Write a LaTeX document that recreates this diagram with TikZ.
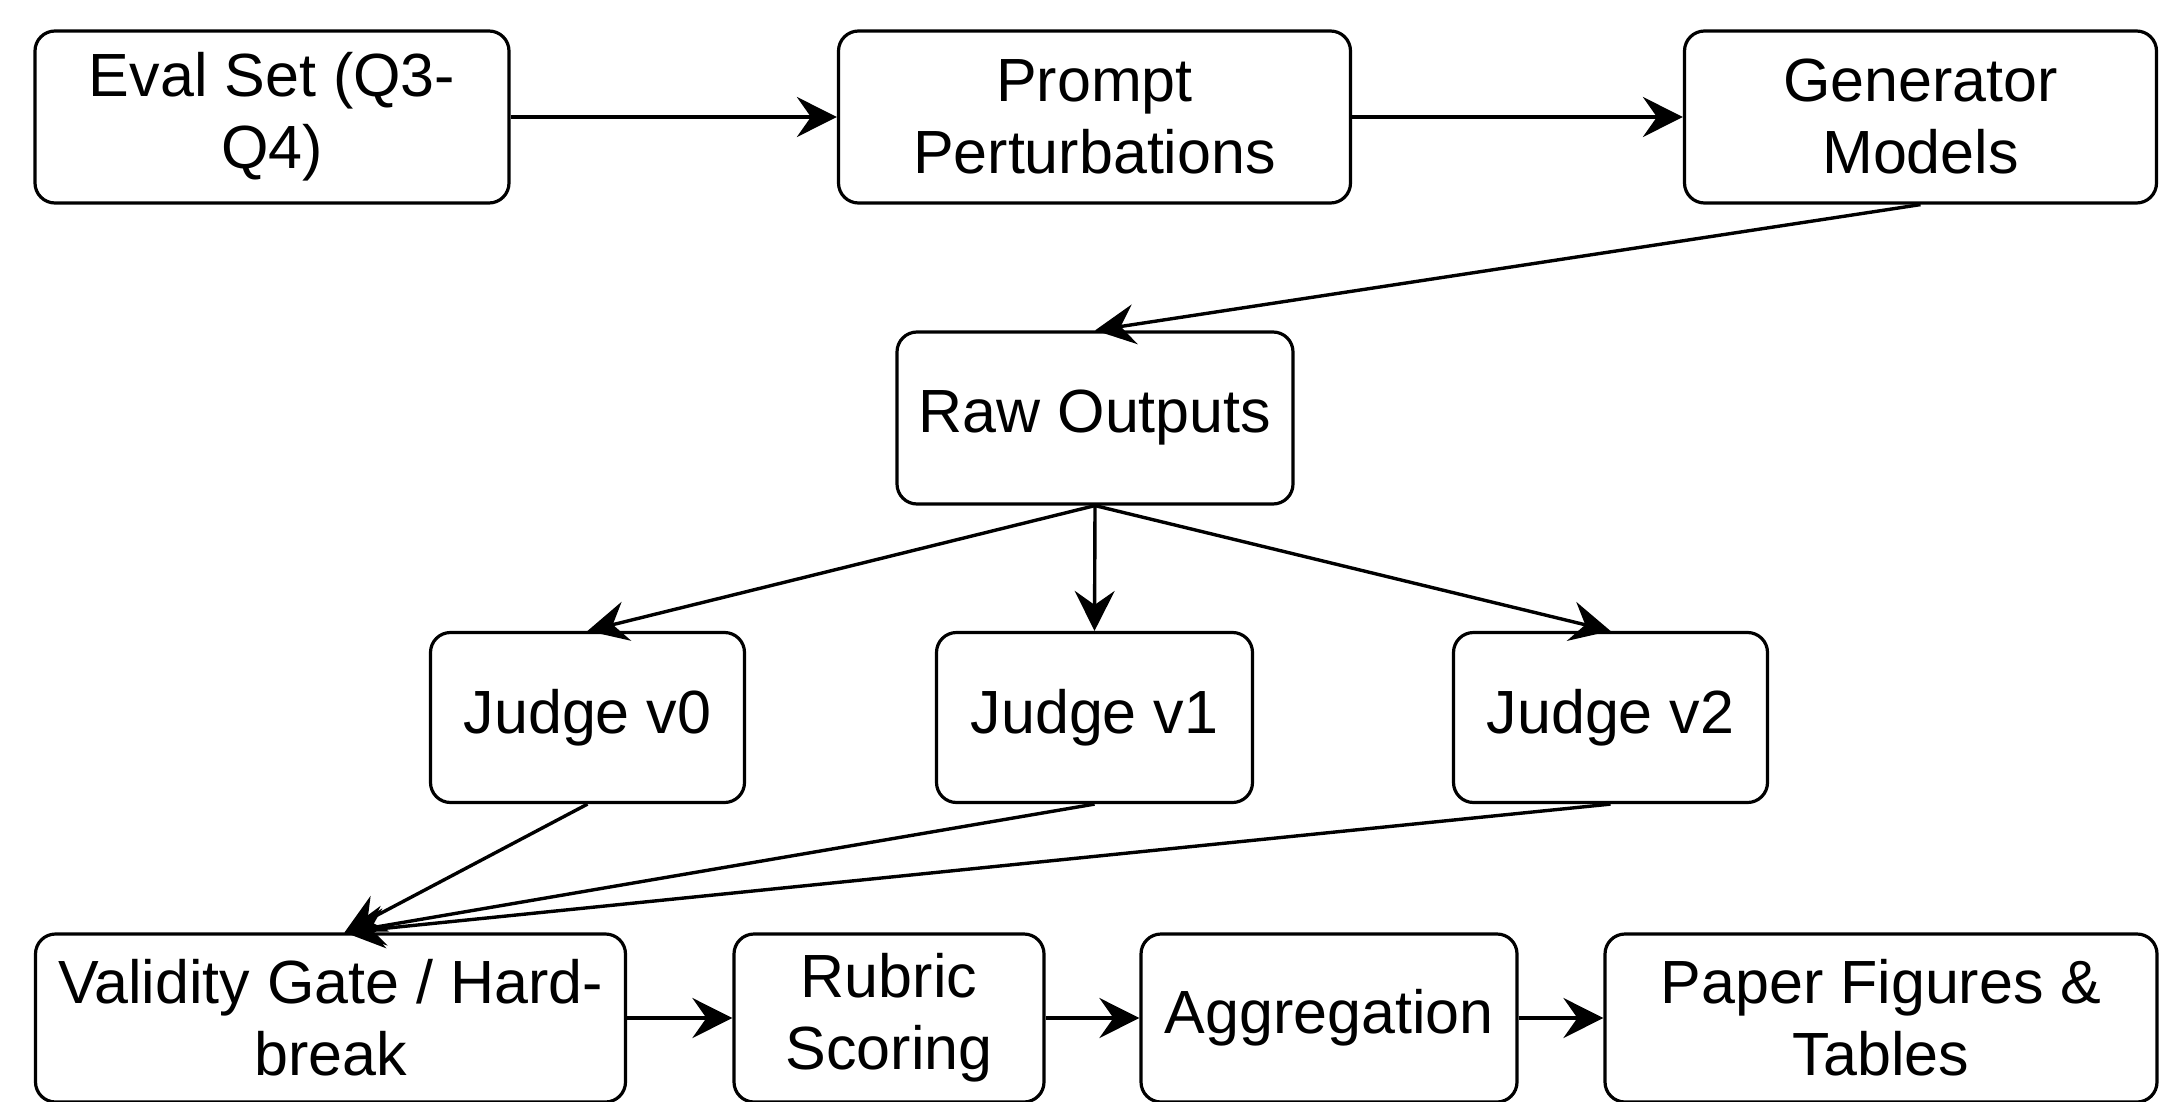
\documentclass[tikz,border=0pt]{standalone}
\usepackage{fontspec}
\setmainfont{Liberation Sans}
\usepackage{tikz}
\usetikzlibrary{arrows.meta}

\begin{document}
\begin{tikzpicture}[x=0.5pt,y=-0.5pt,
        box/.style={draw,line width=1.6pt,rounded corners=10pt,align=center,
            inner sep=0pt,font=\fontsize{30.5}{36}\selectfont,minimum height=86pt},
        flow/.style={line width=1.7pt,-{Stealth[length=20pt,width=20pt,inset=7pt]}},
        ]
        \useasboundingbox (0,0) rectangle (2168,1102);
        % top row
        \node[box,minimum width=237pt] (evalset) at (272,117) {Eval Set (Q3-\\Q4)};
        \node[box,minimum width=256pt] (prompt) at (1094.5,117) {Prompt\\Perturbations};
        \node[box,minimum width=236pt] (gen) at (1920.5,117) {Generator\\Models};
        % outputs and judges
        \node[box,minimum width=198pt] (raw) at (1095,418) {Raw Outputs};
        \node[box,minimum width=157pt,minimum height=85pt] (judgea) at (587.5,717.5) {Judge v0};
        \node[box,minimum width=158pt,minimum height=85pt] (judgeb) at (1094.5,717.5) {Judge v1};
        \node[box,minimum width=157pt,minimum height=85pt] (judgec) at (1610.5,717.5) {Judge v2};
        % bottom row
        \node[box,minimum width=295pt,minimum height=84pt] (valid) at (330.5,1018) {Validity Gate / Hard-\\break};
        \node[box,minimum width=155pt,minimum height=84pt] (rubric) at (889,1018) {Rubric\\Scoring};
        \node[box,minimum width=188pt,minimum height=84pt] (aggr) at (1329,1018) {Aggregation};
        \node[box,minimum width=276pt,minimum height=84pt] (paper) at (1881,1018) {Paper Figures \&\\Tables};

        \draw[flow] (evalset) -- (prompt);
        \draw[flow] (prompt) -- (gen);
        \draw[flow] (gen.south) -- (raw.north);
        \draw[flow] (raw.south) -- (judgea.north);
        \draw[flow] (raw.south) -- (judgeb.north);
        \draw[flow] (raw.south) -- (judgec.north);
        \draw[flow] (judgea.south) -- ([xshift=7pt]valid.north);
        \draw[flow] (judgeb.south) -- ([xshift=7pt]valid.north);
        \draw[flow] (judgec.south) -- ([xshift=7pt]valid.north);
        \draw[flow] (valid) -- (rubric);
        \draw[flow] (rubric) -- (aggr);
        \draw[flow] (aggr) -- (paper);
\end{tikzpicture}
\end{document}
